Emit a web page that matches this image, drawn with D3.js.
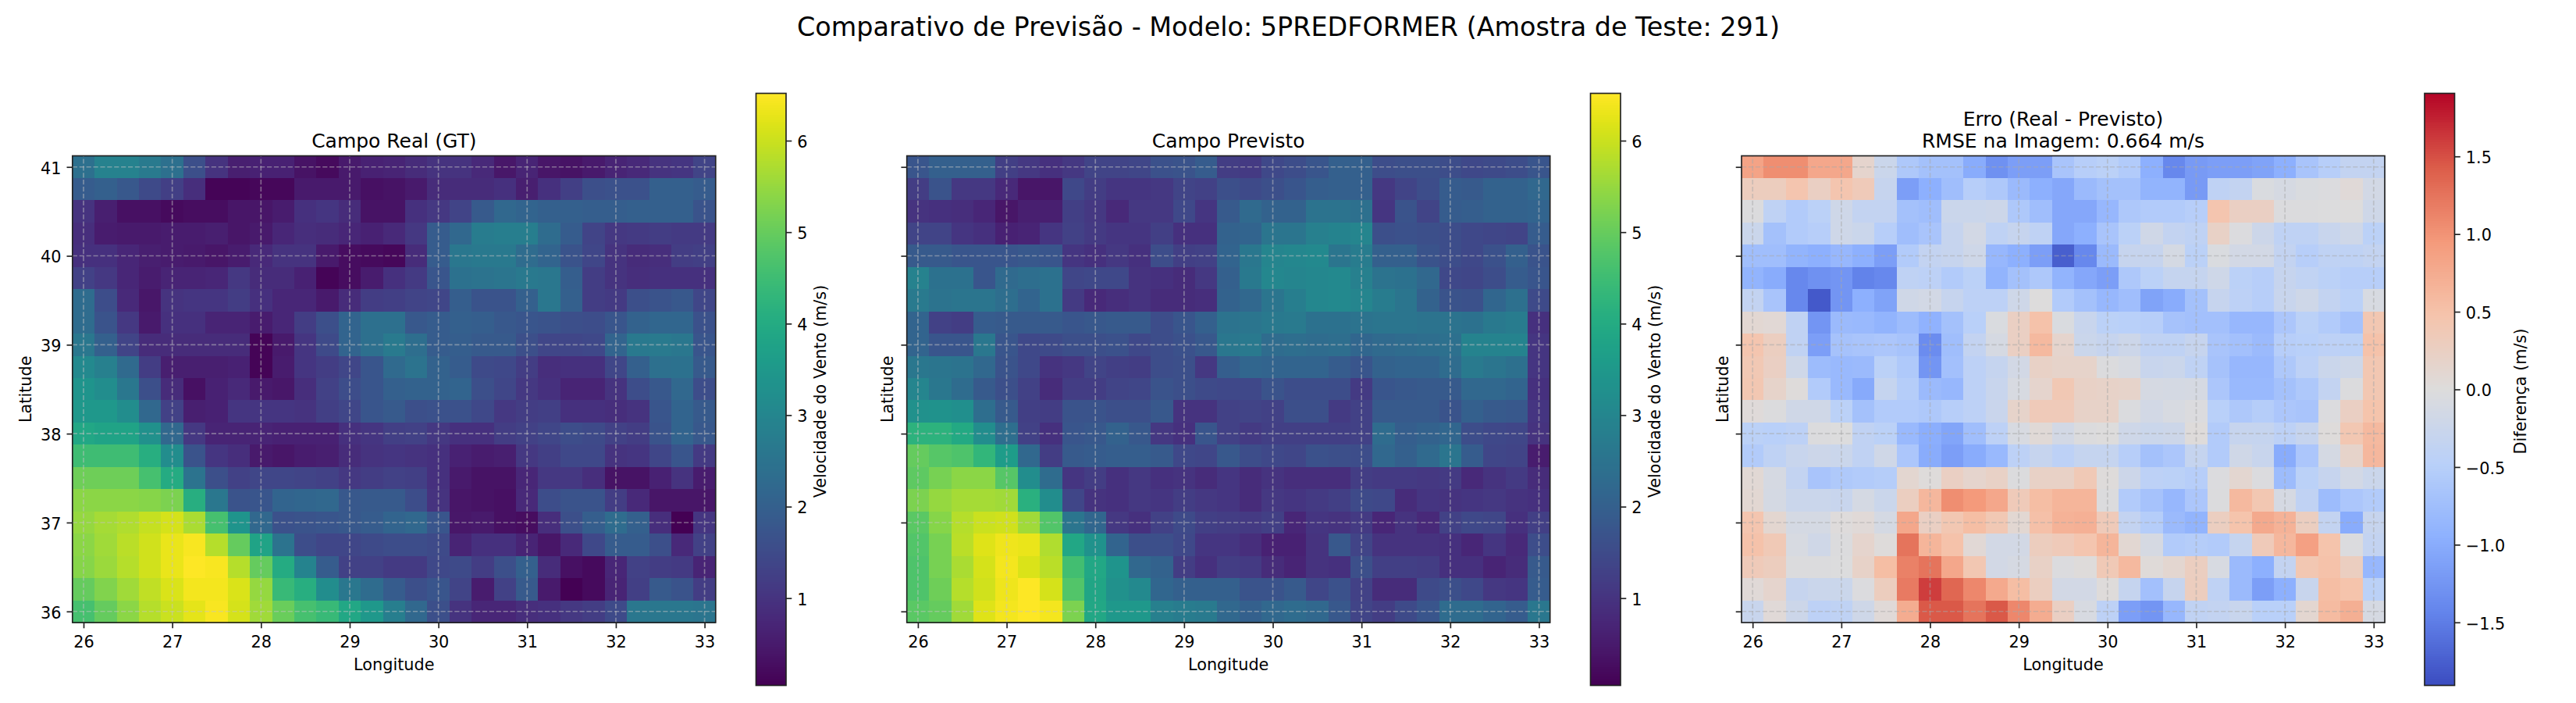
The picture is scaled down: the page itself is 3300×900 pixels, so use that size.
<!DOCTYPE html>
<html>
<head>
<meta charset="utf-8">
<script src="https://d3js.org/d3.v7.min.js"></script>
<style>
  html, body { margin: 0; padding: 0; background: #fff; }
  svg { display: block; }
  text { font-family: "DejaVu Sans", sans-serif; fill: #000; }
  .domain { display: none; }
  .tick line { stroke: #222; stroke-width: 1.67; }
  .tick text { font-size: 20.8px; font-family: "DejaVu Sans", sans-serif; }
</style>
</head>
<body>
<script>
'use strict';

var lons = d3.range(0, 29).map(function(i) { return 26 + i * 0.25; });
var lats = d3.range(0, 21).map(function(i) { return 41 - i * 0.25; });
var lonTicks = [26, 27, 28, 29, 30, 31, 32, 33];
var latTicks = [36, 37, 38, 39, 40, 41];
var speedTicks = [1, 2, 3, 4, 5, 6];
var diffTicks = [-1.5, -1, -0.5, 0, 0.5, 1, 1.5];

// rows go from north (41) to south (36)
var realField = [
  [2.4,2.9,2.9,2.7,2.4,1.6,1.0,.6,.65,.65,.35,.2,.5,.65,.7,.85,1.0,1.0,.8,.45,.7,.4,.35,.5,.7,.8,1.0,1.05,1.35],
  [1.9,2.0,1.8,1.5,1.25,.9,.1,.1,.15,.15,.5,.5,.5,.3,.35,.5,.85,.85,.85,.95,.6,.95,1.25,1.6,1.65,1.65,2.0,2.0,1.9],
  [1.0,.6,.3,.3,.2,.25,.25,.4,.4,.55,.95,1.05,.85,.35,.35,.95,1.1,1.35,1.85,2.2,2.1,2.0,2.0,1.95,1.95,2.0,2.0,2.0,1.7],
  [.9,.55,.5,.5,.55,.55,.6,.4,.5,.75,.9,.85,.75,.65,.8,1.1,1.9,2.2,2.75,2.8,2.8,2.3,1.9,1.35,1.1,1.15,1.2,1.15,1.15],
  [.95,.95,.75,.6,.55,.5,.4,.55,.8,1.0,1.0,.5,.25,.2,.15,.85,1.9,2.6,2.65,2.65,2.3,2.1,1.7,1.4,1.0,.85,.9,1.2,1.25],
  [1.3,1.1,.75,.55,.7,.7,.75,1.1,.85,.85,.65,.1,.25,.55,.95,1.15,1.75,2.45,2.5,2.55,2.65,2.6,1.95,1.2,1.0,.9,.95,.95,.95],
  [2.3,1.55,.8,.45,1.0,1.05,1.05,1.2,.95,.75,.75,.5,.85,1.2,1.25,1.35,1.4,1.95,1.7,1.7,2.0,2.6,2.0,1.2,1.15,1.6,1.7,1.8,1.4],
  [2.3,1.7,1.1,.5,.95,.95,.7,.7,.55,.75,1.2,1.6,2.1,2.4,2.4,1.8,1.9,2.0,1.95,1.8,1.75,1.7,1.6,1.55,1.75,2.05,2.15,2.15,1.65],
  [2.6,2.0,1.35,.85,.85,.85,.85,.85,.1,.5,1.05,1.5,2.1,2.4,2.7,2.35,1.9,1.95,1.85,1.85,1.6,1.4,1.4,1.45,2.1,2.65,2.7,2.6,1.75],
  [3.1,2.85,2.25,1.2,.6,.6,.6,.65,.1,.55,1.05,1.2,1.4,1.75,2.25,2.5,2.05,1.9,1.5,1.45,1.2,.9,.95,.95,1.4,2.0,2.4,2.45,1.85],
  [3.4,3.2,2.6,1.6,.85,.3,.65,.8,.5,.45,.9,1.3,1.55,1.75,2.0,2.05,2.05,2.1,1.6,1.4,1.1,.95,.7,.7,1.0,1.55,1.8,2.2,1.55],
  [3.5,3.5,3.2,2.2,1.3,.6,.65,1.05,1.05,1.05,1.0,1.25,1.4,1.75,1.85,1.6,1.65,1.65,1.45,1.1,1.2,1.25,.95,.95,.9,1.0,1.75,2.1,1.85],
  [3.9,3.8,3.8,3.3,2.2,1.1,.7,.7,.7,.65,.65,.65,.95,1.05,1.25,1.3,1.1,.95,.95,1.2,1.3,1.4,1.55,1.5,1.3,1.2,1.7,2.1,1.8],
  [4.5,4.5,4.5,4.1,3.2,1.7,1.05,.9,.5,.4,.55,.6,.85,1.0,1.05,1.0,.95,.65,.55,.6,1.1,1.25,1.45,1.45,1.0,1.05,1.4,1.75,1.15],
  [5.1,5.1,5.1,4.6,4.0,2.5,1.6,1.3,1.4,1.4,1.35,1.3,1.1,1.2,1.3,1.25,.95,.5,.35,.35,.75,1.1,1.1,.9,.35,.35,.65,1.0,.55],
  [5.4,5.4,5.4,5.35,5.25,4.1,2.6,1.7,1.75,2.1,2.15,2.2,1.8,1.85,1.85,1.55,1.0,.4,.35,.3,.8,1.55,1.7,1.7,1.2,.8,.4,.4,.4],
  [5.5,5.65,5.75,5.95,6.1,5.7,4.6,3.4,2.2,1.65,1.7,1.75,1.8,1.9,2.1,2.2,1.75,.45,.5,.3,.25,.9,1.6,1.95,2.3,2.0,.9,.05,1.05],
  [5.4,5.6,5.85,6.05,6.3,6.45,5.8,5.0,3.8,2.5,1.55,1.4,1.4,1.5,1.55,1.55,1.5,.7,.95,.95,.7,.4,.8,1.45,1.9,1.9,1.6,.8,1.3],
  [5.35,5.55,5.8,6.05,6.3,6.5,6.45,5.8,5.0,4.0,2.95,1.9,1.3,1.3,1.15,1.15,1.45,1.5,1.2,1.6,2.0,.85,.3,.2,.75,1.3,1.2,1.15,.7],
  [5.0,5.3,5.6,5.9,6.15,6.4,6.4,6.15,5.5,4.4,4.1,3.2,2.6,2.3,1.9,1.6,1.75,1.35,.55,1.3,1.85,.5,.05,.2,.7,1.25,1.85,1.7,1.2],
  [4.6,5.0,5.4,5.8,6.0,6.25,6.45,6.1,5.6,5.05,4.6,4.4,3.9,3.5,2.8,2.2,1.6,1.0,.75,.75,.9,.95,1.1,1.2,1.5,2.6,2.6,2.6,2.55]
];

var predField = [
  [1.75,2.0,2.0,2.0,1.25,1.1,.95,1.1,1.35,1.35,1.4,1.65,1.7,1.9,1.2,1.15,1.45,1.55,1.75,2.0,2.0,1.55,1.6,1.6,1.55,1.45,1.5,1.55,1.75],
  [1.2,1.7,1.1,1.1,.8,.4,.4,1.45,1.2,1.05,1.05,1.1,1.35,1.3,1.6,1.5,1.6,1.75,1.95,2.0,2.0,1.1,1.35,1.55,1.9,1.85,2.05,2.05,2.2],
  [1.0,.95,.9,.75,.4,.6,.6,1.25,1.1,.8,1.1,1.1,1.45,1.05,1.85,2.25,2.05,2.05,2.5,2.5,2.4,1.05,1.7,1.35,1.9,1.95,2.05,2.05,2.1],
  [1.35,1.35,1.05,.95,.65,.7,1.05,1.3,1.15,1.05,1.05,1.25,.95,.95,2.05,2.1,2.55,2.55,2.85,2.95,3.0,1.6,1.65,1.6,1.55,1.45,1.4,1.35,1.9],
  [1.85,1.85,1.75,1.75,1.75,1.8,1.75,1.05,.95,1.1,.95,1.55,1.25,1.3,2.1,2.6,3.0,3.05,3.1,2.55,2.75,2.0,2.0,1.7,1.55,1.45,1.65,2.0,1.7],
  [2.9,2.45,2.45,1.75,2.25,2.35,2.45,1.4,1.45,1.45,1.0,.95,.85,1.1,2.0,2.65,3.05,3.0,3.05,3.1,2.85,2.5,2.45,2.2,1.45,1.4,1.55,1.9,1.75],
  [2.7,2.5,2.55,2.55,2.35,2.1,2.45,1.15,.8,.9,1.0,.85,.85,.9,2.05,2.2,2.55,2.8,3.05,3.1,3.0,2.75,2.55,2.05,1.7,1.65,2.15,2.4,1.5],
  [2.1,1.3,1.2,1.9,1.85,1.85,1.85,1.75,1.8,1.85,1.85,1.55,1.75,2.0,2.5,2.55,2.65,2.7,2.45,2.45,2.5,2.55,2.55,2.5,2.5,2.45,2.65,2.75,.95],
  [2.1,1.75,1.75,2.6,1.75,1.45,1.5,1.6,1.6,1.65,1.45,1.55,1.65,1.8,2.6,2.65,2.3,2.35,2.3,2.35,2.15,2.25,2.3,2.35,2.4,2.95,2.95,2.95,1.05],
  [2.6,2.55,2.5,2.2,1.7,1.45,1.0,1.1,1.35,1.25,1.2,1.55,1.6,1.1,1.95,2.15,2.1,2.1,2.1,1.9,1.75,2.05,2.1,2.1,2.3,2.7,2.55,2.4,1.05],
  [3.0,2.6,2.3,1.85,1.6,1.3,.85,1.2,1.2,1.35,1.4,1.7,1.6,1.5,1.45,1.45,1.7,1.55,1.55,1.55,1.15,1.75,1.8,1.85,1.85,2.2,2.2,2.1,.95],
  [3.3,3.35,3.25,2.35,1.85,1.25,1.2,1.7,1.7,1.6,1.6,1.8,1.0,1.0,1.3,1.35,1.3,1.6,1.6,1.15,1.3,1.85,1.85,1.85,1.7,2.0,1.85,1.8,1.05],
  [4.2,4.2,3.95,3.2,2.35,1.3,.95,1.75,1.8,2.05,1.8,1.1,.95,1.75,1.3,1.15,1.25,1.25,1.25,1.25,1.3,2.3,1.95,2.05,2.15,1.55,1.45,1.4,1.0],
  [5.0,4.8,4.7,4.3,3.6,2.2,1.2,1.85,1.9,1.95,1.95,1.85,1.45,1.4,1.8,1.55,1.45,1.4,1.65,1.6,1.55,2.2,2.0,2.25,2.55,1.9,1.4,1.35,.55],
  [4.9,5.2,5.4,5.4,4.8,3.2,2.3,1.05,1.2,.95,1.1,.95,1.0,.85,1.05,.85,1.0,.9,.9,.9,1.2,1.15,1.15,1.1,1.15,.8,1.0,1.15,.85],
  [5.25,5.5,5.65,5.65,5.6,4.15,3.2,1.4,1.0,.95,1.1,1.05,1.2,1.1,1.05,.85,1.1,1.05,1.15,1.25,1.5,1.45,.85,1.05,1.0,1.05,1.1,1.0,.95],
  [4.85,5.35,5.8,6.0,6.05,5.6,4.75,2.55,2.15,1.1,.95,1.3,1.5,1.25,1.2,1.15,1.25,.75,1.05,1.0,1.15,.75,1.0,.8,1.3,1.45,1.4,.95,1.25],
  [4.75,5.2,5.85,6.2,6.35,6.3,5.75,3.9,3.35,2.1,1.6,1.6,1.45,1.05,1.05,.9,.65,.65,1.0,1.8,1.35,1.0,1.0,1.0,.95,.75,1.05,.8,1.55],
  [4.7,5.2,5.7,6.1,6.4,6.15,5.85,4.55,3.9,3.4,2.2,2.05,1.2,.95,1.2,1.15,.85,.7,1.0,.95,1.6,1.25,1.25,1.2,.95,.95,.7,.85,1.85],
  [4.7,5.1,5.8,6.05,6.35,6.55,6.1,4.75,3.85,3.3,3.1,2.15,2.0,2.0,2.0,1.7,1.7,1.85,1.4,1.65,1.3,.85,.85,1.5,1.6,1.45,1.1,1.05,1.9],
  [4.85,5.0,5.6,6.2,6.4,6.55,6.4,5.25,3.9,3.5,3.5,2.85,2.75,2.7,2.2,2.0,2.2,2.3,2.2,1.8,1.35,1.2,1.5,1.75,2.3,2.3,2.1,1.9,2.6]
];

var errField = [
  [.85,1.05,1.05,.8,.8,.15,-.25,-.6,-.7,-.7,-1.0,-1.3,-1.15,-1.15,-.65,-.5,-.45,-.55,-.95,-1.4,-1.2,-1.15,-1.15,-1.1,-.95,-.65,-.5,-.35,-.35],
  [.3,.3,.45,.25,.45,.35,-.3,-1.15,-.95,-.75,-.5,-.6,-.8,-.95,-1.05,-.8,-.7,-.7,-.9,-.9,-1.2,-.4,-.35,-.05,-.1,-.05,-.03,.05,-.15],
  [-.02,-.4,-.55,-.45,-.2,-.35,-.35,-.7,-.75,-.25,-.25,-.22,-.6,-.75,-1.05,-1.05,-.85,-.6,-.55,-.55,-.5,.45,.25,.25,-.02,-.02,-.01,0,-.2],
  [-.25,-.7,-.55,-.5,-.2,-.25,-.5,-.75,-.65,-.3,-.15,-.4,-.3,-.4,-1.05,-.95,-.65,-.45,-.18,-.35,-.4,.22,-.03,-.22,-.4,-.4,-.28,-.2,-.45],
  [-.75,-.75,-.9,-.95,-.85,-.95,-1.15,-.55,-.35,-.3,-.2,-.85,-.95,-1.15,-1.75,-1.4,-.8,-.3,-.3,-.12,-.45,-.05,-.15,-.15,-.35,-.5,-.4,-.4,-.35],
  [-.9,-1.0,-1.4,-1.3,-1.25,-1.45,-1.4,-.4,-.42,-.55,-.45,-.9,-.7,-.6,-.9,-1.05,-1.15,-.6,-.45,-.32,-.32,-.2,-.45,-.5,-.3,-.37,-.45,-.5,-.5],
  [-.35,-.65,-1.4,-1.8,-1.25,-.95,-1.1,-.18,-.15,-.3,-.42,-.42,-.2,0,-.55,-.7,-.85,-.75,-1.1,-1.0,-.7,-.3,-.42,-.5,-.28,-.2,-.35,-.45,-.08],
  [.1,.07,-.38,-1.25,-.8,-.82,-.9,-.78,-.92,-.7,-.47,-.05,.25,.5,-.05,-.28,-.45,-.48,-.5,-.68,-.72,-.72,-.85,-.85,-.62,-.45,-.55,-.68,.42],
  [.45,.28,-.38,-1.15,-.68,-.65,-.62,-.67,-1.35,-.75,-.35,-.1,.25,.6,.15,-.25,-.3,-.22,-.38,-.4,-.3,-.65,-.72,-.8,-.5,-.48,-.42,-.45,.5],
  [.4,.25,-.2,-.78,-.82,-.8,-.45,-.58,-1.25,-.72,-.42,-.32,-.15,.22,.18,.18,-.02,-.08,-.28,-.25,-.4,-.68,-.85,-.85,-.6,-.42,-.25,-.2,.42],
  [.42,.18,.02,-.55,-.82,-1.02,-.32,-.52,-.8,-.85,-.42,-.28,-.08,.15,.4,.22,.2,.18,-.1,-.12,-.1,-.62,-.82,-.82,-.7,-.6,-.35,-.02,.42],
  [.03,-.02,-.18,-.18,-.45,-.7,-.55,-.55,-.6,-.5,-.42,-.27,.18,.35,.35,.2,.2,-.04,-.15,-.08,-.03,-.48,-.6,-.52,-.62,-.65,-.03,.25,.48],
  [-.45,-.48,-.42,-.02,-.01,-.38,-.45,-.82,-.98,-1.08,-.75,-.42,-.08,.06,-.15,-.02,0,-.2,-.25,-.22,.02,-.55,-.3,-.32,-.42,-.3,.02,.42,.6],
  [-.55,-.4,-.28,-.22,-.25,-.38,-.18,-.62,-1.0,-1.15,-1.0,-.82,-.42,-.3,-.42,-.32,-.32,-.5,-.7,-.62,-.32,-.55,-.18,-.28,-1.0,-.62,-.12,.18,.62],
  [.08,-.1,-.35,-.65,-.58,-.55,-.52,.12,.02,.25,.15,.22,-.02,.22,.22,.38,.02,-.22,-.42,-.45,-.5,-.03,.12,-.03,-.78,-.45,-.3,-.15,-.25],
  [.1,-.12,-.25,-.25,-.28,-.12,-.25,.28,.62,1.05,.95,.8,.35,.55,.65,.65,-.02,-.55,-.68,-.85,-.62,-.02,.6,.42,-.1,-.38,-.78,-.62,-.55],
  [.45,.12,-.12,-.12,.01,.05,-.12,.8,.25,.42,.55,.4,.1,.52,.68,.7,.35,-.35,-.52,-.8,-.9,.28,.48,.78,.68,.28,-.35,-1.0,-.3],
  [.5,.38,-.08,-.18,-.02,.15,.02,1.25,.65,.5,.07,-.15,-.15,.3,.35,.45,.65,.1,-.1,-.55,-.52,-.55,-.32,.35,.62,.88,.48,-.03,-.35],
  [.35,.3,-.02,-.02,-.01,.2,.55,1.15,1.25,.8,.42,-.15,-.1,.22,-.03,.02,.38,.6,.04,.12,.28,-.08,-.8,-.95,-.35,.42,.5,.28,-.85],
  [.05,.15,-.3,-.25,-.25,-.03,.3,1.2,1.6,1.35,1.1,.78,.55,.28,-.15,-.15,.02,-.32,-.72,-.3,.3,-.4,-.8,-1.15,-.95,-.28,.55,.48,-.45],
  [-.28,.05,-.22,-.42,-.4,-.2,.05,.75,1.45,1.45,1.25,1.45,1.1,.75,.25,-.08,-.42,-1.15,-1.25,-.85,-.38,-.35,-.28,-.48,-.48,.12,.58,.72,-.1]
];

var coolwarmStops = ['#3b4cc0', '#6485ec', '#8db0fe', '#b9d0f9', '#dddcdc', '#f5c4ac', '#f49a7b', '#dc5d4a', '#b40426'];
var coolwarm = d3.scaleLinear()
  .domain(d3.range(9).map(function(i) { return i / 8; }))
  .range(coolwarmStops);

var speedColor = d3.scaleSequential(d3.interpolateViridis).domain([0.046, 6.517]);
var diffColor = d3.scaleSequential(coolwarm).domain([-1.906, 1.906]);

var panelW = 824, panelTop = 199.5, panelBottom = 797;
var barTop = 119.5, barBottom = 877.5, barW = 38.5;

var svg = d3.select('body').append('svg')
  .attr('width', 3300)
  .attr('height', 900);

svg.append('text')
  .attr('x', 1650.5)
  .attr('y', 34)
  .attr('dy', '0.36em')
  .attr('text-anchor', 'middle')
  .style('font-size', '33.4px')
  .text('Comparativo de Previsão - Modelo: 5PREDFORMER (Amostra de Teste: 291)');

function fmtTick(d) {
  return d3.format('.1f')(d).replace('-', '\u2212');
}

function drawPanel(opt) {
  var g = svg.append('g');
  var x = d3.scaleLinear().domain([25.875, 33.125]).range([opt.left, opt.left + panelW]);
  var y = d3.scaleLinear().domain([35.875, 41.125]).range([panelBottom, panelTop]);

  // cells
  opt.field.forEach(function(row, r) {
    row.forEach(function(v, c) {
      g.append('rect')
        .attr('x', x(lons[c] - 0.125))
        .attr('y', y(lats[r] + 0.125))
        .attr('width', x(lons[c] + 0.125) - x(lons[c] - 0.125) + 0.5)
        .attr('height', y(lats[r] - 0.125) - y(lats[r] + 0.125) + 0.5)
        .attr('shape-rendering', 'crispEdges')
        .attr('fill', opt.color(v));
    });
  });

  // dashed grid on top of the image
  var grid = g.append('g')
    .attr('stroke', opt.gridColor)
    .attr('stroke-opacity', opt.gridAlpha)
    .attr('stroke-width', 1.67)
    .attr('stroke-dasharray', '6.2,2.7')
    .attr('fill', 'none');
  grid.selectAll('.v').data(lonTicks).enter().append('line')
    .attr('x1', function(d) { return x(d); })
    .attr('x2', function(d) { return x(d); })
    .attr('y1', panelBottom)
    .attr('y2', panelTop);
  grid.selectAll('.h').data(latTicks).enter().append('line')
    .attr('y1', function(d) { return y(d); })
    .attr('y2', function(d) { return y(d); })
    .attr('x1', opt.left)
    .attr('x2', opt.left + panelW);

  // axes
  var xAxis = d3.axisBottom(x).tickValues(lonTicks).tickSize(7.3).tickPadding(9.5).tickFormat(d3.format('d'));
  g.append('g').attr('transform', 'translate(0,' + panelBottom + ')').call(xAxis);
  var yAxis = d3.axisLeft(y).tickValues(latTicks).tickSize(7.3).tickPadding(7)
    .tickFormat(opt.showLat ? d3.format('d') : '');
  g.append('g').attr('transform', 'translate(' + opt.left + ',0)').call(yAxis)
    .selectAll('text').attr('dy', '0.4em');

  g.append('rect')
    .attr('x', opt.left)
    .attr('y', panelTop)
    .attr('width', panelW)
    .attr('height', panelBottom - panelTop)
    .attr('fill', 'none')
    .attr('stroke', '#222')
    .attr('stroke-width', 1.67);

  // labels
  g.append('text')
    .attr('x', opt.left + panelW / 2)
    .attr('y', 851)
    .attr('dy', '0.36em')
    .attr('text-anchor', 'middle')
    .style('font-size', '20.8px')
    .text('Longitude');
  g.append('text')
    .attr('transform', 'translate(' + (opt.left - opt.latGap) + ',' + (panelTop + panelBottom) / 2 + ') rotate(-90)')
    .attr('dy', '0.36em')
    .attr('text-anchor', 'middle')
    .style('font-size', '20.8px')
    .text('Latitude');

  opt.title.forEach(function(t, i) {
    g.append('text')
      .attr('x', opt.left + panelW / 2)
      .attr('y', 180 - (opt.title.length - 1 - i) * 28.5)
      .attr('dy', '0.36em')
      .attr('text-anchor', 'middle')
      .style('font-size', '25px')
      .text(t);
  });

  // colourbar
  var bar = d3.scaleLinear().domain(opt.color.domain()).range([barBottom, barTop]);
  var steps = d3.range(256);
  var stepH = (barBottom - barTop) / 256;
  g.selectAll('.bar').data(steps).enter().append('rect')
    .attr('x', opt.barLeft)
    .attr('y', function(d) { return barBottom - (d + 1) * stepH; })
    .attr('width', barW)
    .attr('height', stepH + 0.5)
    .attr('shape-rendering', 'crispEdges')
    .attr('fill', function(d) {
      var dom = opt.color.domain();
      return opt.color(dom[0] + (dom[1] - dom[0]) * (d + 0.5) / 256);
    });
  var barAxis = d3.axisRight(bar).tickValues(opt.barTicks).tickSize(7.3).tickPadding(7).tickFormat(opt.barFormat);
  g.append('g').attr('transform', 'translate(' + (opt.barLeft + barW) + ',0)').call(barAxis)
    .selectAll('text').attr('dy', '0.4em');
  g.append('rect')
    .attr('x', opt.barLeft)
    .attr('y', barTop)
    .attr('width', barW)
    .attr('height', barBottom - barTop)
    .attr('fill', 'none')
    .attr('stroke', '#222')
    .attr('stroke-width', 1.67);
  g.append('text')
    .attr('transform', 'translate(' + opt.barLabelX + ',' + 501 + ') rotate(-90)')
    .attr('dy', '0.36em')
    .attr('text-anchor', 'middle')
    .style('font-size', '20.8px')
    .text(opt.barLabel);
}

drawPanel({
  left: 92.8, field: realField, color: speedColor, showLat: true, latGap: 60,
  title: ['Campo Real (GT)'],
  gridColor: '#c4c4c4', gridAlpha: 0.5,
  barLeft: 968.5, barTicks: speedTicks, barFormat: d3.format('d'),
  barLabel: 'Velocidade do Vento (m/s)', barLabelX: 1050
});
drawPanel({
  left: 1161.7, field: predField, color: speedColor, showLat: false, latGap: 25,
  title: ['Campo Previsto'],
  gridColor: '#c4c4c4', gridAlpha: 0.5,
  barLeft: 2037.5, barTicks: speedTicks, barFormat: d3.format('d'),
  barLabel: 'Velocidade do Vento (m/s)', barLabelX: 2119
});
drawPanel({
  left: 2231, field: errField, color: diffColor, showLat: false, latGap: 25,
  title: ['Erro (Real - Previsto)', 'RMSE na Imagem: 0.664 m/s'],
  gridColor: '#a8a8a8', gridAlpha: 0.5,
  barLeft: 3106, barTicks: diffTicks, barFormat: fmtTick,
  barLabel: 'Diferença (m/s)', barLabelX: 3228
});
</script>
</body>
</html>
